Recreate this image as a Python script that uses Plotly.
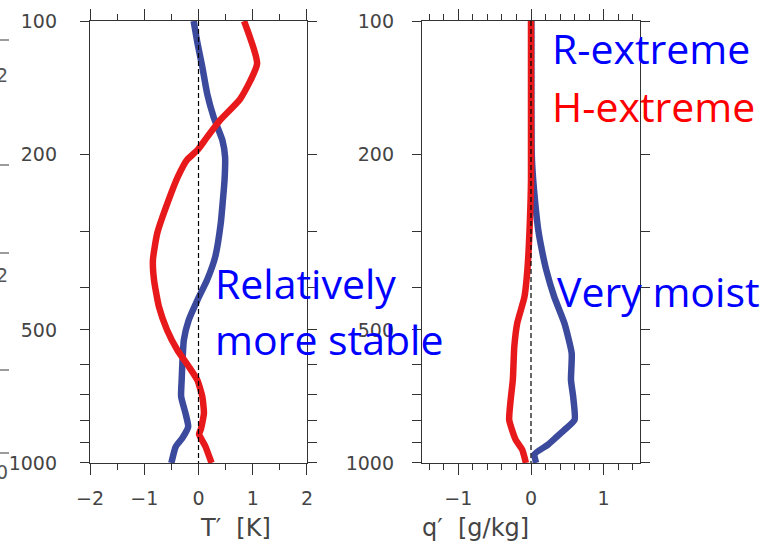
import plotly.graph_objects as go

# ---------------- data ----------------
# T' profiles [K]
p_T_R = [100, 112, 127, 146, 165, 186, 203, 229, 254, 287, 341, 385, 428, 475, 527, 605, 649, 708, 772, 828, 879, 919, 1000]
T_R   = [-0.09, -0.02, 0.07, 0.16, 0.28, 0.44, 0.49, 0.48, 0.45, 0.41, 0.31, 0.16, -0.02, -0.18, -0.27, -0.30, -0.31, -0.32, -0.24, -0.19, -0.30, -0.42, -0.50]
p_T_H = [100, 125, 150, 167, 183, 196, 206, 225, 254, 302, 347, 385, 443, 500, 555, 605, 650, 708, 772, 842, 860, 919, 1000]
T_H   = [0.84, 1.08, 0.77, 0.41, 0.16, -0.02, -0.21, -0.38, -0.55, -0.76, -0.84, -0.82, -0.73, -0.58, -0.39, -0.18, -0.02, 0.07, 0.10, 0.04, 0.01, 0.13, 0.24]
# q' profiles [g/kg]
p_q_R = [100, 150, 200, 229, 260, 297, 330, 366, 421, 483, 565, 649, 708, 799, 842, 880, 910, 955, 1000]
q_R   = [0.005, 0.005, 0.01, 0.03, 0.06, 0.10, 0.15, 0.21, 0.32, 0.46, 0.56, 0.55, 0.58, 0.60, 0.46, 0.33, 0.23, 0.05, 0.07]
p_q_H = [100, 229, 297, 366, 421, 483, 546, 649, 720, 799, 887, 934, 1000]
q_H   = [0.0, 0.0, -0.02, -0.05, -0.09, -0.19, -0.23, -0.25, -0.28, -0.30, -0.21, -0.12, -0.07]

p_ticks = [100, 200, 500, 1000]
p_minor = [300, 400, 600, 700, 800, 900]
T_ticks = [-2, -1, 0, 1, 2]
T_labels = ["\u22122", "\u22121", "0", "1", "2"]
T_minor = [-1.5, -0.5, 0.5, 1.5]
q_ticks = [-1, 0, 1]
q_labels = ["\u22121", "0", "1"]
q_minor = [-1.4, -1.2, -0.8, -0.6, -0.4, -0.2, 0.2, 0.4, 0.6, 0.8, 1.2, 1.4]

BLUE = "#3b4a9c"
RED = "#e8191b"
W, H = 763, 543

def px(x):
    return x / W

def py(y):
    return 1 - y / H

fig = go.Figure()
lw = 6.5
fig.add_trace(go.Scatter(x=T_R, y=p_T_R, mode="lines", line=dict(color=BLUE, width=lw, shape="spline", smoothing=0.5), xaxis="x", yaxis="y"))
fig.add_trace(go.Scatter(x=T_H, y=p_T_H, mode="lines", line=dict(color=RED, width=lw, shape="spline", smoothing=0.5), xaxis="x", yaxis="y"))
fig.add_trace(go.Scatter(x=[0, 0], y=[100, 1000], mode="lines", line=dict(color="black", width=1.2, dash="5px,3px"), xaxis="x", yaxis="y"))
fig.add_trace(go.Scatter(x=q_R, y=p_q_R, mode="lines", line=dict(color=BLUE, width=lw, shape="spline", smoothing=0.5), xaxis="x2", yaxis="y2"))
fig.add_trace(go.Scatter(x=q_H, y=p_q_H, mode="lines", line=dict(color=RED, width=lw, shape="spline", smoothing=0.5), xaxis="x2", yaxis="y2"))
fig.add_trace(go.Scatter(x=[0, 0], y=[100, 1000], mode="lines", line=dict(color="black", width=1.2, dash="5px,3px"), xaxis="x2", yaxis="y2"))

tickfont = dict(family="DejaVu Sans", size=19, color="#444444")
axcommon = dict(showline=True, linecolor="#333333", linewidth=1.3, mirror="allticks", ticks="outside",
                tickcolor="#333333", tickwidth=1.3, showgrid=False, zeroline=False, tickfont=tickfont)

ydom = [py(463), py(21)]
fig.update_layout(
    width=W, height=H, margin=dict(l=0, r=0, t=0, b=0, autoexpand=False),
    paper_bgcolor="white", plot_bgcolor="white", showlegend=False,
    xaxis=dict(domain=[px(90), px(307)], range=[-2.0001, 2.0001], anchor="y",
               tickmode="array", tickvals=T_ticks, ticktext=T_labels, ticklen=11, ticklabelstandoff=7,
               minor=dict(tickvals=T_minor, ticklen=6, ticks="outside", tickcolor="#333333", tickwidth=1.3),
               **axcommon),
    yaxis=dict(domain=ydom, type="log", range=[3.0001, 1.9999], anchor="x",
               tickmode="array", tickvals=p_ticks, ticktext=[str(v) for v in p_ticks], ticklen=9, ticklabelstandoff=19,
               minor=dict(tickvals=p_minor, ticklen=9, ticks="outside", tickcolor="#333333", tickwidth=1.3),
               **axcommon),
    xaxis2=dict(domain=[px(422), px(640)], range=[-1.5, 1.5], anchor="y2",
                tickmode="array", tickvals=q_ticks, ticktext=q_labels, ticklen=11, ticklabelstandoff=7,
                minor=dict(tickvals=q_minor, ticklen=6, ticks="outside", tickcolor="#333333", tickwidth=1.3),
                **axcommon),
    yaxis2=dict(domain=ydom, type="log", range=[3.0001, 1.9999], anchor="x2",
                tickmode="array", tickvals=p_ticks, ticktext=[str(v) for v in p_ticks], ticklen=9, ticklabelstandoff=14,
                minor=dict(tickvals=p_minor, ticklen=9, ticks="outside", tickcolor="#333333", tickwidth=1.3),
                **axcommon),
)

ann = []
titlefont = dict(family="DejaVu Sans", size=24, color="#444444")
ann.append(dict(x=px(198), y=py(528), text="T\u2032  [K]", font=titlefont))
ann.append(dict(x=px(531), y=py(528), text="q\u2032  [g/kg]", font=titlefont))

big = "Open Sans"
ann.append(dict(x=px(550), y=py(48), text="R-extreme", font=dict(family=big, size=41, color="#0000ff"), xanchor="left"))
ann.append(dict(x=px(550), y=py(106), text="H-extreme", font=dict(family=big, size=41, color="#ff0000"), xanchor="left"))
ann.append(dict(x=px(555), y=py(291), text="Very moist", font=dict(family=big, size=41, color="#0000ff"), xanchor="left"))
ann.append(dict(x=px(213), y=py(283), text="Relatively", font=dict(family=big, size=41, color="#0000ff"), xanchor="left"))
ann.append(dict(x=px(213), y=py(339), text="more stable", font=dict(family=big, size=41, color="#0000ff"), xanchor="left"))

# remnants of a neighbouring panel at the left edge
remfont = dict(family="DejaVu Sans", size=19, color="#555555")
for yy, t in [(75, "2"), (275, "2"), (472, "0")]:
    ann.append(dict(x=px(10), y=py(yy), text=t, font=remfont, xanchor="right"))
for a in ann:
    a.update(xref="paper", yref="paper", showarrow=False, yanchor=a.get("yanchor", "middle"))
fig.update_layout(annotations=ann)

shapes = []
for yy in [40, 165, 253, 370, 453]:
    shapes.append(dict(type="line", xref="paper", yref="paper", x0=0, x1=px(9), y0=py(yy), y1=py(yy),
                       line=dict(color="#666666", width=1.3)))
fig.update_layout(shapes=shapes)

fig.write_html("out.html")
